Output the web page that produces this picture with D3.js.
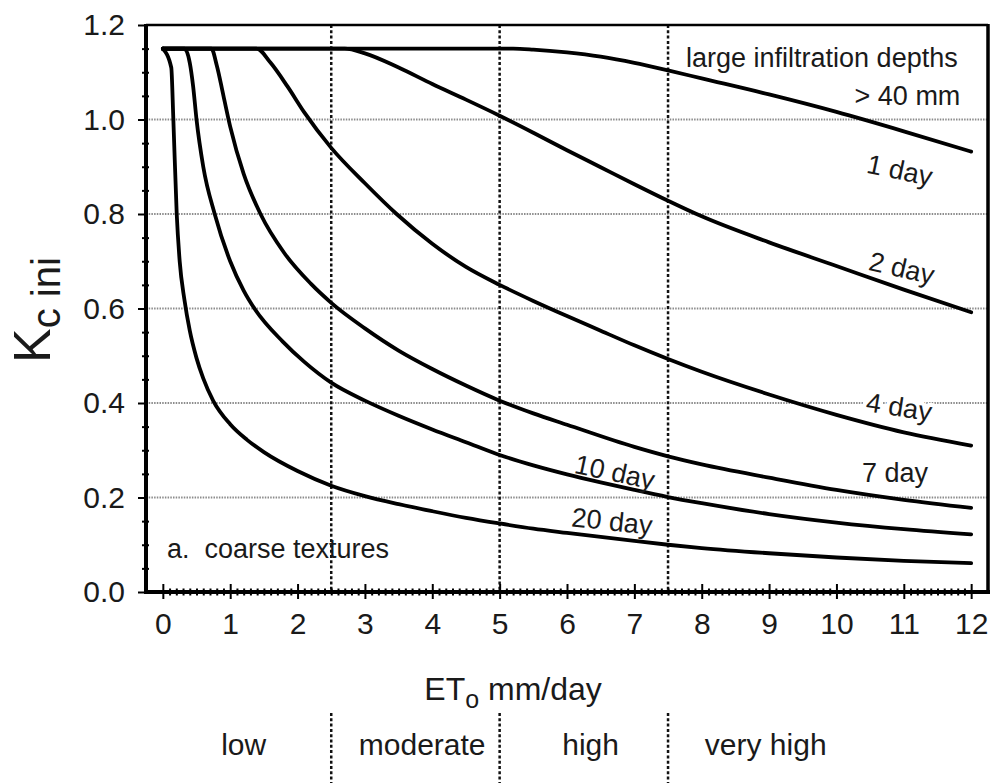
<!DOCTYPE html>
<html><head><meta charset="utf-8">
<script src="https://cdn.jsdelivr.net/npm/d3@7"></script>
<style>
html,body{margin:0;padding:0;background:#fff;}
svg{display:block;font-family:"Liberation Sans", Arial, Helvetica, sans-serif;}
text{white-space:pre;}
</style></head><body>
<svg id="chart" width="993" height="783"></svg>
<script>
// ---------- data ----------
const xTicks = [0,1,2,3,4,5,6,7,8,9,10,11,12];
const yTicks = [0.0,0.2,0.4,0.6,0.8,1.0,1.2];
const gridY = [0.2,0.4,0.6,0.8,1.0];
const boundaries = [2.5,5,7.5];
const categories = ["low","moderate","high","very high"];
const categoryAt = [1.2,3.85,6.35,8.95];

// [ETo mm/day, Kc ini]
const day1 = [[0,1.15],[5.2,1.15],[5.5,1.148],[6,1.142],[6.5,1.133],[7,1.12],[7.5,1.104],[8,1.087],[9,1.053],[10,1.016],[11,0.975],[12,0.932]];
const day2 = [[0,1.15],[2.7,1.15],[3.0,1.14],[3.5,1.11],[4.0,1.075],[4.5,1.042],[5.0,1.008],[5.5,0.972],[6,0.935],[6.5,0.899],[7,0.863],[7.5,0.828],[8,0.795],[9,0.74],[10,0.69],[11,0.64],[12,0.592]];
const day4 = [[0,1.15],[1.39,1.15],[1.6,1.12],[1.85,1.07],[2.1,1.015],[2.5,0.94],[3.0,0.865],[3.47,0.80],[4.0,0.737],[4.5,0.688],[5.0,0.65],[5.5,0.616],[6,0.584],[6.5,0.553],[7,0.522],[7.5,0.493],[8,0.466],[9,0.418],[10,0.375],[11,0.338],[12,0.31]];
const day7 = [[0,1.15],[0.72,1.15],[0.8,1.115],[0.9,1.05],[1.0,0.985],[1.2,0.885],[1.45,0.80],[1.8,0.718],[2.2,0.652],[2.5,0.612],[3.0,0.558],[3.5,0.511],[4.0,0.472],[4.5,0.437],[5.0,0.405],[5.5,0.378],[6,0.354],[7,0.307],[7.5,0.287],[8,0.27],[9,0.242],[10,0.216],[11,0.195],[12,0.178]];
const day10 = [[0,1.15],[0.32,1.15],[0.4,1.12],[0.45,1.07],[0.5,1.0],[0.6,0.90],[0.77,0.80],[1.0,0.70],[1.2,0.638],[1.36,0.60],[1.78,0.53],[2.1,0.487],[2.5,0.443],[3.0,0.405],[3.5,0.373],[4.0,0.344],[4.5,0.317],[5.0,0.29],[5.5,0.268],[6,0.249],[6.5,0.232],[7,0.216],[7.5,0.201],[8,0.188],[9,0.165],[10,0.147],[11,0.133],[12,0.122]];
const day20 = [[0,1.15],[0.125,1.11],[0.156,1.0],[0.206,0.80],[0.25,0.70],[0.32,0.619],[0.4,0.553],[0.5,0.495],[0.6,0.452],[0.75,0.404],[1.0,0.355],[1.25,0.322],[1.5,0.296],[2.0,0.256],[2.5,0.225],[3.0,0.203],[3.5,0.186],[4.0,0.171],[4.5,0.157],[5.0,0.145],[5.5,0.134],[6,0.125],[7,0.108],[7.5,0.1],[8,0.093],[9,0.082],[10,0.073],[11,0.066],[12,0.061]];
const series = [day1, day2, day4, day7, day10, day20];

// curve labels: text, ETo, Kc, rotation
const curveLabels = [
  ["1 day", 10.94, 0.893, 12],
  ["2 day", 10.97, 0.686, 13],
  ["4 day", 10.93, 0.392, 9],
  ["7 day", 10.87, 0.252, 0],
  ["10 day", 6.71, 0.254, 12],
  ["20 day", 6.67, 0.150, 6]
];

// ---------- layout ----------
const svg = d3.select("#chart");
svg.append("rect").attr("width",993).attr("height",783).attr("fill","#fff");
const x = d3.scaleLinear().domain([-0.25,12.25]).range([146,988]);
const y = d3.scaleLinear().domain([0,1.2]).range([592,25]);
const tickFont = 30;

// grid
svg.append("g").selectAll("line").data(gridY).join("line")
  .attr("x1",x.range()[0]).attr("x2",x.range()[1])
  .attr("y1",d=>y(d)).attr("y2",d=>y(d))
  .attr("stroke","#8c8c8c").attr("stroke-width",2).attr("stroke-dasharray","1.5,1.2");
svg.append("g").selectAll("line").data(boundaries).join("line")
  .attr("x1",d=>x(d)).attr("x2",d=>x(d))
  .attr("y1",y(1.2)).attr("y2",y(0))
  .attr("stroke","#111").attr("stroke-width",2.5).attr("stroke-dasharray","3,2.3");

// label halos (cut gridlines)
const lblG = svg.append("g");
function labelText(g, cls){
  g.selectAll("text."+cls).data(curveLabels).join("text").attr("class",cls)
    .attr("transform",d=>`translate(${x(d[1])},${y(d[2])}) rotate(${d[3]})`)
    .attr("text-anchor","middle").attr("dy","0.35em")
    .attr("font-size",27).text(d=>d[0]);
}
labelText(lblG,"halo");
lblG.selectAll("text.halo").attr("fill","#fff").attr("stroke","#fff").attr("stroke-width",8).attr("stroke-linejoin","round");

// curves
const line = d3.line().x(d=>x(d[0])).y(d=>y(d[1])).curve(d3.curveMonotoneX);
svg.append("g").selectAll("path").data(series).join("path")
  .attr("d",line).attr("fill","none").attr("stroke","#000")
  .attr("stroke-width",3.8).attr("stroke-linejoin","round").attr("stroke-linecap","round");

const lblTop = svg.append("g");
labelText(lblTop,"lbl");
lblTop.selectAll("text.lbl").attr("fill","#1a1a1a");

// annotations
svg.append("text").attr("x",x(11.8)).attr("y",y(1.111)).attr("text-anchor","end")
  .attr("font-size",27).attr("fill","#1a1a1a").text("large infiltration depths");
svg.append("text").attr("x",x(11.84)).attr("y",y(1.031)).attr("text-anchor","end")
  .attr("font-size",27).attr("fill","#1a1a1a").text("> 40 mm");
svg.append("text").attr("x",x(0.06)).attr("y",y(0.072)).attr("text-anchor","start")
  .attr("font-size",27).attr("fill","#1a1a1a").text("a.  coarse textures");

// axes ticks
const minorX = d3.range(0,121).map(i=>i/10).filter(v=>Math.abs(v-Math.round(v))>1e-6);
const minorY = d3.range(0,25).map(i=>i*0.05).filter(v=>Math.abs(v*5-Math.round(v*5))>1e-6);

svg.append("g").attr("transform",`translate(0,${y(0)})`)
  .call(d3.axisBottom(x).tickValues(xTicks).tickSize(7).tickPadding(14).tickFormat(d3.format("d")));
svg.append("g").attr("transform",`translate(0,${y(0)})`)
  .call(d3.axisTop(x).tickValues(xTicks).tickSize(8).tickFormat(""));
svg.append("g").attr("transform",`translate(0,${y(0)})`)
  .call(d3.axisBottom(x).tickValues(minorX).tickSize(3.5).tickFormat(""));
svg.append("g").attr("transform",`translate(0,${y(0)})`)
  .call(d3.axisTop(x).tickValues(minorX).tickSize(3.5).tickFormat(""));

svg.append("g").attr("transform",`translate(${x(-0.25)},0)`)
  .call(d3.axisLeft(y).tickValues(yTicks).tickSize(8).tickPadding(13).tickFormat(d3.format(".1f")));
svg.append("g").attr("transform",`translate(${x(-0.25)},0)`)
  .call(d3.axisLeft(y).tickValues(minorY).tickSize(4).tickFormat(""));
svg.append("g").attr("transform",`translate(${x(-0.25)},0)`)
  .call(d3.axisRight(y).tickValues(minorY).tickSize(3).tickFormat(""));

svg.selectAll(".domain").remove();
svg.selectAll(".tick line").attr("stroke","#000").attr("stroke-width",2);
svg.selectAll(".tick text").attr("font-size",tickFont).attr("fill","#1a1a1a")
  .attr("font-family",'"Liberation Sans", Arial, sans-serif');

// frame
const fr = svg.append("g").attr("stroke","#000").attr("fill","none");
fr.append("line").attr("x1",x(-0.25)).attr("x2",x(12.25)).attr("y1",y(1.2)).attr("y2",y(1.2)).attr("stroke-width",2.5);
fr.append("line").attr("x1",x(12.25)).attr("x2",x(12.25)).attr("y1",y(1.2)-1).attr("y2",y(0)+1).attr("stroke-width",3.5);
fr.append("line").attr("x1",x(-0.25)).attr("x2",x(-0.25)).attr("y1",y(1.2)-1).attr("y2",y(0)+2).attr("stroke-width",4);
fr.append("line").attr("x1",x(-0.25)-2).attr("x2",x(12.25)+2).attr("y1",y(0)).attr("y2",y(0)).attr("stroke-width",4);

// axis titles
const xt = svg.append("text").attr("x",x(5.2)).attr("y",700).attr("text-anchor","middle")
  .attr("font-size",32).attr("fill","#1a1a1a");
xt.append("tspan").text("ET");
xt.append("tspan").attr("font-size",25).attr("dy",8).text("o");
xt.append("tspan").attr("dy",-8).text(" mm/day");

const yt = svg.append("text").attr("transform","translate(50,363) rotate(-90)")
  .attr("font-size",52).attr("fill","#1a1a1a");
yt.append("tspan").text("K");
yt.append("tspan").attr("font-size",40).attr("dy",10).text("c ini");

// category row
svg.append("g").selectAll("line").data(boundaries).join("line")
  .attr("x1",d=>x(d)).attr("x2",d=>x(d)).attr("y1",713).attr("y2",783)
  .attr("stroke","#111").attr("stroke-width",2.5).attr("stroke-dasharray","3,2.3");
svg.append("g").selectAll("text").data(categories).join("text")
  .attr("x",(d,i)=>x(categoryAt[i])).attr("y",755).attr("text-anchor","middle")
  .attr("font-size",30).attr("fill","#1a1a1a").text(d=>d);
</script>
</body></html>
